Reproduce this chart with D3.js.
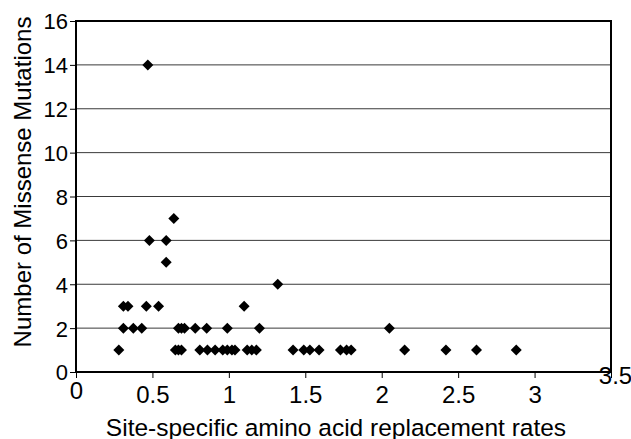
<!DOCTYPE html>
<html>
<head>
<meta charset="utf-8">
<script src="https://cdn.jsdelivr.net/npm/d3@7"></script>
<style>
body { margin: 0; background: #fff; }
text { font-family: "Liberation Sans", Arial, sans-serif; fill: #000; }
</style>
</head>
<body>
<div id="chart"></div>
<script>
// site-specific replacement rate vs number of missense mutations
var rates = [0.47, 0.64, 0.48, 0.59, 0.59, 1.32,
	0.31, 0.34, 0.46, 0.54, 1.10,
	0.31, 0.375, 0.43, 0.67, 0.69, 0.71, 0.78, 0.855, 0.99, 1.20, 2.05,
	0.28, 0.65, 0.67, 0.69, 0.81, 0.86, 0.91, 0.96, 0.99, 1.02, 1.04, 1.12, 1.15, 1.18,
	1.42, 1.49, 1.53, 1.59, 1.73, 1.77, 1.80, 2.15, 2.42, 2.62, 2.88]
var mutations = [14, 7, 6, 6, 5, 4,
	3, 3, 3, 3, 3,
	2, 2, 2, 2, 2, 2, 2, 2, 2, 2, 2,
	1, 1, 1, 1, 1, 1, 1, 1, 1, 1, 1, 1, 1, 1,
	1, 1, 1, 1, 1, 1, 1, 1, 1, 1, 1]
var xTicks = [0, 0.5, 1, 1.5, 2, 2.5, 3, 3.5]
var yTicks = [0, 2, 4, 6, 8, 10, 12, 14, 16]

var w = 631, h = 439
var pLeft = 76, pRight = 611, pTop = 21, pBottom = 372

var svg = d3.select("#chart").append("svg")
	.attr("width", w)
	.attr("height", h)

var x = d3.scaleLinear().domain([0, 3.5]).range([pLeft, pRight])
var y = d3.scaleLinear().domain([0, 16]).range([pBottom, pTop])

// gridlines
svg.append("g").selectAll("line")
	.data(yTicks.slice(1, -1))
	.enter().append("line")
	.attr("x1", pLeft).attr("x2", pRight)
	.attr("y1", function(d){ return y(d) }).attr("y2", function(d){ return y(d) })
	.style("stroke", "#3a3a3a")
	.style("stroke-width", 1)

// frame
svg.append("rect")
	.attr("x", pLeft).attr("y", pTop)
	.attr("width", pRight - pLeft).attr("height", pBottom - pTop)
	.style("fill", "none")
	.style("stroke", "#000")
	.style("stroke-width", 2)

var xAxis = svg.append("g")
	.attr("transform", "translate(0," + pBottom + ")")
	.call(d3.axisBottom(x).tickValues(xTicks).tickSize(6).tickPadding(2).tickFormat(d3.format("")))
xAxis.select(".domain").remove()
xAxis.selectAll("line").style("stroke", "#000").style("stroke-width", 1)
xAxis.selectAll("text")
	.style("font-size", "24px")
	.attr("dy", null)
	.attr("y", function(d){ return d == 0 ? 27 : (d == 3.5 ? 12 : 31) })
	.attr("x", function(d){ return d == 3.5 ? 4 : 0 })

var yAxis = svg.append("g")
	.attr("transform", "translate(" + pLeft + ",0)")
	.call(d3.axisLeft(y).tickValues(yTicks).tickSize(6).tickPadding(2))
yAxis.select(".domain").remove()
yAxis.selectAll("line").style("stroke", "#000").style("stroke-width", 1)
yAxis.selectAll("text")
	.style("font-size", "22px")
	.attr("dy", "0.36em")

// points
svg.append("g").selectAll("path")
	.data(rates)
	.enter().append("path")
	.attr("d", "M0,-5.5L5.5,0L0,5.5L-5.5,0Z")
	.attr("transform", function(d, i){ return "translate(" + x(d) + "," + y(mutations[i]) + ")" })
	.style("fill", "#000")

svg.append("text")
	.attr("x", 336)
	.attr("y", 436)
	.attr("text-anchor", "middle")
	.style("font-size", "24.5px")
	.text("Site-specific amino acid replacement rates")

svg.append("text")
	.attr("transform", "translate(31,182) rotate(-90)")
	.attr("text-anchor", "middle")
	.style("font-size", "24px")
	.text("Number of Missense Mutations")
</script>
</body>
</html>
